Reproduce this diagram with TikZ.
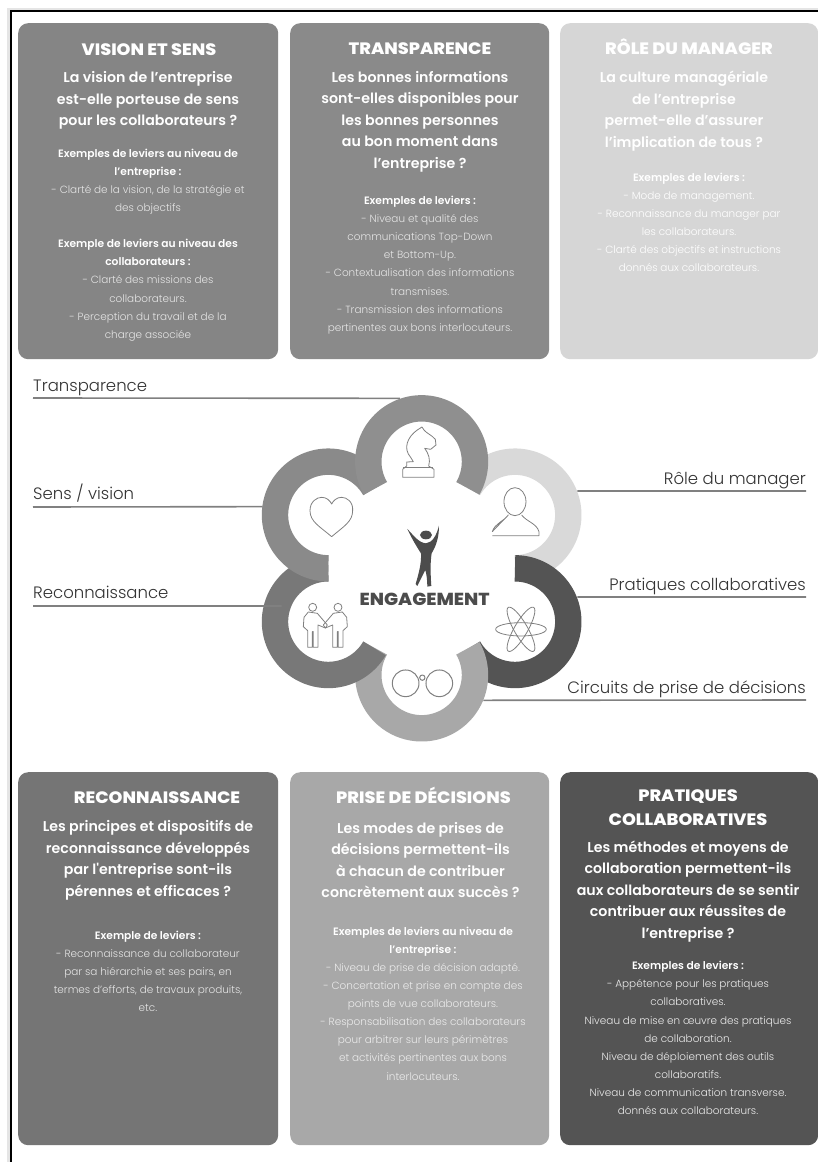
\documentclass[tikz,border=0pt]{standalone}
\usepackage{fontspec}
\setmainfont{Poppins}
\newfontfamily\pLight{Poppins Light}
\newfontfamily\pSemi{Poppins SemiBold}
\newfontfamily\pBold{Poppins ExtraBold}[FakeStretch=1.07]
\newcommand{\ttl}{\fontsize{16.5}{24}\pBold}
\newcommand{\qst}{\fontsize{14.2}{21.5}\pSemi}
\newcommand{\bhd}{\fontsize{10.7}{18.1}\pSemi}
\newcommand{\bdy}{\fontsize{10.45}{18.1}\pLight}
\tikzset{
  card/.style={rounded corners=10pt,inner sep=0pt,minimum width=260pt,anchor=north west},
  cardlabel/.style={text=white,align=center,inner sep=0pt,anchor=center},
  bodylabel/.style={cardlabel,font=\bdy},
  sidelabel/.style={font=\fontsize{16.5}{18}\pLight,text=black!80,inner sep=0pt},
  leader/.style={draw=black!50,line width=1.6pt},
  ring/.style={line width=26.4pt,line cap=butt},
  icon/.style={draw=black!50,line width=0.8pt,fill=none,line join=round}
}
% arc of ring: centre x, centre y, start angle, end angle (screen angles), colour
\newcommand{\ringarc}[5]{\draw[ring,draw=#5] plot[domain=#3:#4,samples=90,variable=\t] ({#1+160*cos(\t)},{#2-160*sin(\t)});}
\begin{document}
\begin{tikzpicture}[x=1pt,y=-1pt]
\useasboundingbox (0,0) rectangle (818,1162);
\fill[white] (0,0) rectangle (818,1162);
\fill[black!10] (7,8) rectangle (818,1162);
\fill[white] (10,10) rectangle (818,1162);
\fill[black] (10,10) rectangle (818,12);
\fill[black] (10,10) rectangle (12,1162);

% cards
\node[card,fill=black!48,minimum width=260pt,minimum height=336pt] (c1) at (18,23) {};
\node[card,fill=black!46,minimum width=259pt,minimum height=336pt] (c2) at (290,23) {};
\node[card,fill=black!16,minimum width=258pt,minimum height=336pt] (c3) at (560,23) {};
\node[card,fill=black!54,minimum width=260pt,minimum height=373pt] (c4) at (18,772) {};
\node[card,fill=black!34,minimum width=259pt,minimum height=373pt] (c5) at (290,772) {};
\node[card,fill=black!67,minimum width=258pt,minimum height=373pt] (c6) at (560,772) {};

% card 1
\node[cardlabel,font=\ttl] (t1) at (149,50) {VISION ET SENS};
\node[cardlabel,font=\qst] (q1) at (148,100.5) {La vision de l’entreprise\\est-elle porteuse de sens\\pour les collaborateurs ?};
\node[bodylabel,text=black!10] (b1) at (148,245) {\bhd\textcolor{white}{Exemples de leviers au niveau de}\\\bhd\textcolor{white}{l’entreprise :}\\\bdy - Clarté de la vision, de la stratégie et\\\bdy des objectifs\\\bdy\strut\\\bhd\textcolor{white}{Exemple de leviers au niveau des}\\\bhd\textcolor{white}{collaborateurs :}\\\bdy - Clarté des missions des\\\bdy collaborateurs.\\\bdy - Perception du travail et de la\\\bdy charge associée};

% card 2
\node[cardlabel,font=\ttl] (t2) at (420,49) {TRANSPARENCE};
\node[cardlabel,font=\qst] (q2) at (420,121.5) {Les bonnes informations\\sont-elles disponibles pour\\les bonnes personnes\\au bon moment dans\\l’entreprise ?};
\node[bodylabel,text=black!10] (b2) at (420,265) {\bhd\textcolor{white}{Exemples de leviers :}\\\bdy - Niveau et qualité des\\\bdy communications Top-Down\\\bdy et Bottom-Up.\\\bdy - Contextualisation des informations\\\bdy transmises.\\\bdy - Transmission des informations\\\bdy pertinentes aux bons interlocuteurs.};

% card 3
\node[cardlabel,font=\ttl] (t3) at (689,47) {RÔLE DU MANAGER};
\node[cardlabel,font=\qst] (q3) at (684,111) {La culture managériale\\de l’entreprise\\permet-elle d’assurer\\l’implication de tous ?};
\node[bodylabel,text=white] (b3) at (689,222.5) {\bhd Exemples de leviers :\\\bdy - Mode de management.\\\bdy - Reconnaissance du manager par\\\bdy les collaborateurs.\\\bdy - Clarté des objectifs et instructions\\\bdy donnés aux collaborateurs.};

% card 4
\node[cardlabel,font=\ttl] (t4) at (157,798) {RECONNAISSANCE};
\node[cardlabel,font=\qst] (q4) at (148,860.5) {Les principes et dispositifs de\\reconnaissance développés\\par l'entreprise sont-ils\\pérennes et efficaces ?};
\node[bodylabel,text=black!10] (b4) at (148,971.5) {\bhd\textcolor{white}{Exemple de leviers :}\\\bdy - Reconnaissance du collaborateur\\\bdy par sa hiérarchie et ses pairs, en\\\bdy termes d’efforts, de travaux produits,\\\bdy etc.};

% card 5
\node[cardlabel,font=\ttl] (t5) at (423.5,795) {PRISE DE DÉCISIONS};
\node[cardlabel,font=\qst] (q5) at (420.5,860) {Les modes de prises de\\décisions permettent-ils\\à chacun de contribuer\\concrètement aux succès ?};
\node[bodylabel,text=black!8] (b5) at (423,1003.5) {\bhd\textcolor{white}{Exemples de leviers au niveau de}\\\bhd\textcolor{white}{l’entreprise :}\\\bdy - Niveau de prise de décision adapté.\\\bdy - Concertation et prise en compte des\\\bdy points de vue collaborateurs.\\\bdy - Responsabilisation des collaborateurs\\\bdy pour arbitrer sur leurs périmètres\\\bdy et activités pertinentes aux bons\\\bdy interlocuteurs.};

% card 6
\node[cardlabel,font=\ttl] (t6) at (688,808) {PRATIQUES\\COLLABORATIVES};
\node[cardlabel,font=\qst] (q6) at (688,891.5) {Les méthodes et moyens de\\collaboration permettent-ils\\aux collaborateurs de se sentir\\contribuer aux réussites de\\l’entreprise ?};
\node[bodylabel,text=black!8] (b6) at (688,1038) {\bhd\textcolor{white}{Exemples de leviers :}\\\bdy - Appétence pour les pratiques\\\bdy collaboratives.\\\bdy Niveau de mise en œuvre des pratiques\\\bdy de collaboration.\\\bdy Niveau de déploiement des outils\\\bdy collaboratifs.\\\bdy Niveau de communication transverse.\\\bdy donnés aux collaborateurs.};

% flower, in the 3x coordinates of the central region
\begin{scope}[shift={(240,380)},x=0.3333pt,y=-0.3333pt]
\ringarc{825}{405}{-90}{150}{black!15}
\ringarc{825}{725}{-150}{90}{black!67}
\ringarc{545}{885}{150}{390}{black!34}
\ringarc{265}{725}{90}{330}{black!53}
\ringarc{265}{405}{30}{270}{black!46}
\ringarc{545}{245}{-30}{210}{black!44}

% knight
\draw[icon] (488,292) -- (582,292) -- (582,268) -- (566,258) .. controls (572,240) and (566,220) .. (554,205) -- (572,208) -- (588,195) -- (586,178) .. controls (575,165) and (560,160) .. (552,150) -- (546,141) -- (532,150) .. controls (503,170) and (488,205) .. (512,232) -- (520,245) -- (500,246) -- (500,258) -- (488,268) -- cycle;
\draw[icon] (490,262) -- (580,262);
% bust
\draw[icon] (825,365) ellipse [x radius=33,y radius=42];
\draw[icon] (757,467) -- (897,467) -- (897,455) .. controls (890,430) and (860,425) .. (845,405) (805,405) .. controls (790,425) and (765,430) .. (757,455) -- cycle;
% heart
\draw[icon] (275,470) .. controls (240,440) and (210,425) .. (210,392) .. controls (210,365) and (230,352) .. (245,352) .. controls (260,352) and (270,362) .. (275,372) .. controls (280,362) and (290,352) .. (305,352) .. controls (320,352) and (340,365) .. (338,392) .. controls (338,425) and (310,440) .. (275,470) -- cycle;
% atom
\draw[icon] (843,748) ellipse [x radius=76,y radius=20];
\draw[icon,rotate around={60:(843,748)}] (843,748) ellipse [x radius=76,y radius=20];
\draw[icon,rotate around={-60:(843,748)}] (843,748) ellipse [x radius=76,y radius=20];
% glasses
\draw[icon,line width=1pt] (497,910) circle [radius=40];
\draw[icon,line width=1pt] (598,910) circle [radius=40];
\draw[icon,line width=1pt] (547,893) circle [radius=8];
% two persons
\draw[icon] (218,682) circle [radius=12];
\draw[icon] (294,682) circle [radius=12];
\draw[icon] (205,696) -- (192,712) -- (190,740) -- (203,752) -- (203,802) -- (217,802) -- (217,755) -- (220,755) -- (220,802) -- (234,802) -- (234,735) -- (256,744) -- (262,735) -- (232,700) -- cycle;
\draw[icon] (307,696) -- (320,712) -- (322,740) -- (309,752) -- (309,802) -- (295,802) -- (295,755) -- (292,755) -- (292,802) -- (278,802) -- (278,735) -- (256,744) -- (250,735) -- (280,700) -- cycle;
% central figure
\fill[black!70] (558,465) ellipse [x radius=18,y radius=13];
\fill[black!70] (502,447) .. controls (520,465) and (535,488) .. (558,490) .. controls (578,488) and (590,465) .. (597,437) .. controls (597,470) and (590,495) .. (575,520) .. controls (570,550) and (572,590) .. (574,618) -- (562,620) .. controls (562,600) and (560,585) .. (556,570) -- (532,618) -- (527,612) .. controls (535,585) and (545,550) .. (543,520) .. controls (530,500) and (515,475) .. (502,447) -- cycle;
\node[font=\fontsize{17.4}{18}\pBold,text=black!70,inner sep=0pt] (eng) at (554,658) {ENGAGEMENT};
\coordinate (rT) at (480,55);
\coordinate (rS) at (68,380);
\coordinate (rR) at (125,678);
\coordinate (rM) at (1012,333);
\coordinate (rP) at (1012,651);
\coordinate (rC) at (730,961);
\end{scope}

% labels and leader lines
\node[sidelabel,anchor=base west] (lT) at (33,391) {Transparence};
\node[sidelabel,anchor=base west] (lS) at (33,499) {Sens / vision};
\node[sidelabel,anchor=base west] (lR) at (33,598) {Reconnaissance};
\node[sidelabel,anchor=base east] (lM) at (806,484) {Rôle du manager};
\node[sidelabel,anchor=base east] (lP) at (806,590) {Pratiques collaboratives};
\node[sidelabel,anchor=base east] (lC) at (806,693) {Circuits de prise de décisions};
\coordinate (eT) at (33,398);
\coordinate (eS) at (33,507);
\coordinate (eR) at (33,606);
\coordinate (eM) at (806,491);
\coordinate (eP) at (806,597);
\coordinate (eC) at (806,700);
\draw[leader] (eT) -- (rT);
\draw[leader] (eS) -- (rS);
\draw[leader] (eR) -- (rR);
\draw[leader] (eM) -- (rM);
\draw[leader] (eP) -- (rP);
\draw[leader] (eC) -- (rC);
\end{tikzpicture}
\end{document}
